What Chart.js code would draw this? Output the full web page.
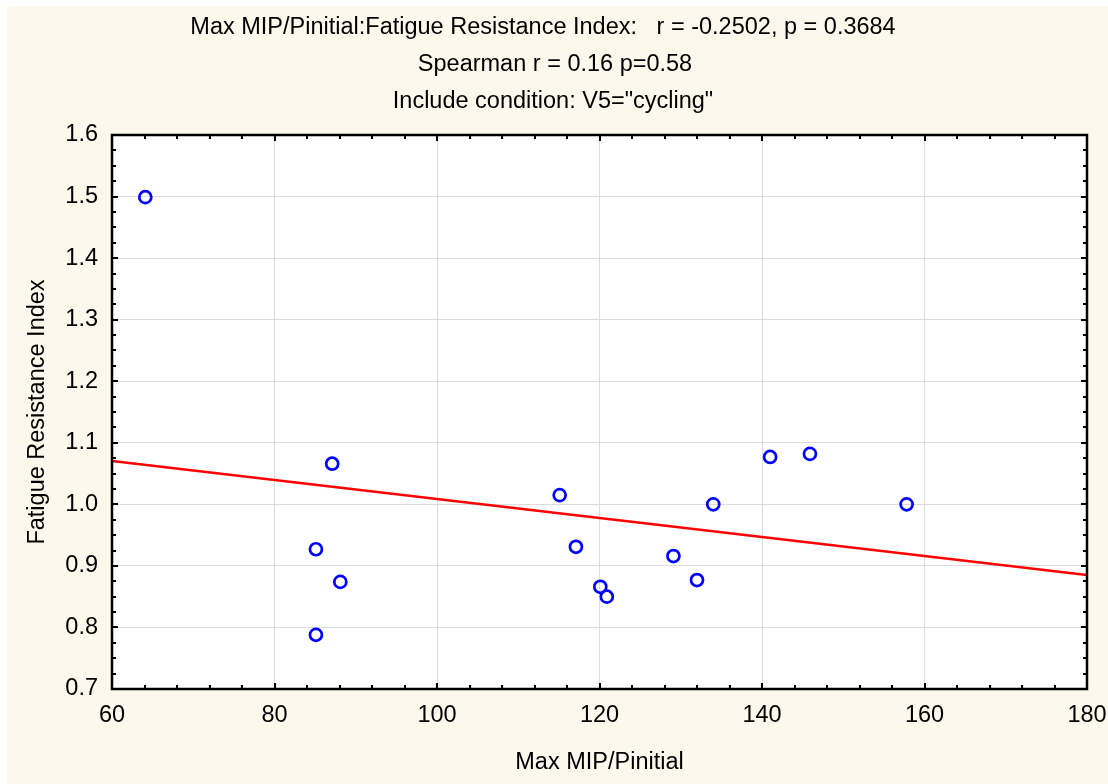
<!DOCTYPE html>
<html>
<head>
<meta charset="utf-8">
<script src="https://cdn.jsdelivr.net/npm/chart.js@4"></script>
<style>
  html, body { margin: 0; padding: 0; background: #ffffff; }
  #wrap { width: 1108px; height: 784px; }
</style>
</head>
<body>
<div id="wrap"><canvas id="c" width="1108" height="784"></canvas></div>
<script>
// data
const xValues = [64.1, 87.1, 85.1, 88.1, 85.1, 115.1, 117.1, 120.1, 120.9, 129.1, 132.0, 134.0, 141.0, 145.9, 157.8];
const yValues = [1.499, 1.066, 0.927, 0.874, 0.788, 1.015, 0.931, 0.866, 0.850, 0.916, 0.877, 1.000, 1.077, 1.082, 1.000];
const trendX = [60, 180];
const trendY = [1.0705, 0.885];
const titleLines = [
    'Max MIP/Pinitial:Fatigue Resistance Index:   r = -0.2502, p = 0.3684',
    'Spearman r = 0.16 p=0.58',
    'Include condition: V5="cycling"'
];
const titleCenters = [543, 555, 553];
const xTitle = 'Max MIP/Pinitial';
const yTitle = 'Fatigue Resistance Index';

const FONT = '"Liberation Sans", Arial, sans-serif';
const FS = 23.5;

const points = xValues.map((x, i) => ({x: x, y: yValues[i]}));
const trend = trendX.map((x, i) => ({x: x, y: trendY[i]}));

const framePlugin = {
    id: 'frame',
    beforeDraw(chart) {
        const ctx = chart.ctx;
        const a = chart.chartArea;
        ctx.save();
        ctx.fillStyle = '#ffffff';
        ctx.fillRect(0, 0, chart.width, chart.height);
        ctx.fillStyle = '#fdf8ec';
        ctx.fillRect(7, 6, chart.width - 7, chart.height - 6);
        ctx.fillStyle = '#ffffff';
        ctx.fillRect(a.left, a.top, a.right - a.left, a.bottom - a.top);
        // titles
        ctx.fillStyle = '#000';
        ctx.font = FS + 'px ' + FONT;
        ctx.textAlign = 'center';
        ctx.textBaseline = 'middle';
        titleLines.forEach((t, i) => {
            ctx.fillText(t, titleCenters[i], 28 + i * 37);
        });
        ctx.restore();
    },
    afterDraw(chart) {
        const ctx = chart.ctx;
        const a = chart.chartArea;
        const xs = chart.scales.x;
        const ys = chart.scales.y;
        ctx.save();
        ctx.strokeStyle = '#000';
        ctx.lineWidth = 2;
        ctx.beginPath();
        for (let v = 60; v <= 180.001; v += 4) {
            const px = Math.round(xs.getPixelForValue(v));
            const len = (Math.round(v) % 20 === 0) ? 6 : 4;
            ctx.moveTo(px, a.bottom);
            ctx.lineTo(px, a.bottom - len);
            ctx.moveTo(px, a.top);
            ctx.lineTo(px, a.top + len);
        }
        for (let k = 0; k <= 36; k++) {
            const v = 0.7 + k * 0.025;
            const py = Math.round(ys.getPixelForValue(v));
            const len = (k % 4 === 0) ? 6 : 4;
            ctx.moveTo(a.left, py);
            ctx.lineTo(a.left + len, py);
            ctx.moveTo(a.right, py);
            ctx.lineTo(a.right - len, py);
        }
        ctx.stroke();
        ctx.lineWidth = 2.5;
        ctx.strokeRect(a.left, a.top, a.right - a.left, a.bottom - a.top);
        ctx.restore();
    }
};

new Chart(document.getElementById('c').getContext('2d'), {
    type: 'scatter',
    data: {
        datasets: [
            {
                label: 'points',
                data: points,
                pointStyle: 'circle',
                pointRadius: 6,
                pointBorderWidth: 2.7,
                borderColor: '#0000ff',
                backgroundColor: 'rgba(0,0,0,0)',
                order: 1
            },
            {
                label: 'fit',
                data: trend,
                showLine: true,
                pointRadius: 0,
                borderColor: '#ff0000',
                borderWidth: 2.5,
                order: 2
            }
        ]
    },
    options: {
        responsive: false,
        animation: false,
        layout: {
            padding: {top: 135, right: 21, left: 0, bottom: 0}
        },
        plugins: {
            legend: {display: false},
            tooltip: {enabled: false},
            title: {display: false}
        },
        scales: {
            x: {
                type: 'linear',
                min: 60,
                max: 180,
                afterFit: (s) => { s.height = 95; s.paddingLeft = 0; s.paddingRight = 0; },
                ticks: {
                    stepSize: 20,
                    padding: 12,
                    maxRotation: 0,
                    color: '#000',
                    font: {family: FONT, size: FS}
                },
                grid: {color: '#dcdcdc', lineWidth: 1, drawTicks: false},
                border: {display: false},
                title: {
                    display: true,
                    text: xTitle,
                    color: '#000',
                    font: {family: FONT, size: FS},
                    padding: {top: 0, bottom: 7}
                }
            },
            y: {
                type: 'linear',
                min: 0.7,
                max: 1.6,
                afterFit: (s) => { s.width = 112; s.paddingTop = 0; s.paddingBottom = 0; },
                ticks: {
                    stepSize: 0.1,
                    padding: 14,
                    color: '#000',
                    font: {family: FONT, size: FS},
                    callback: (v) => Number(v).toFixed(1)
                },
                grid: {color: '#dcdcdc', lineWidth: 1, drawTicks: false},
                border: {display: false},
                title: {
                    display: true,
                    text: yTitle,
                    color: '#000',
                    font: {family: FONT, size: FS},
                    padding: {top: 23, bottom: 0}
                }
            }
        }
    },
    plugins: [framePlugin]
});
</script>
</body>
</html>
